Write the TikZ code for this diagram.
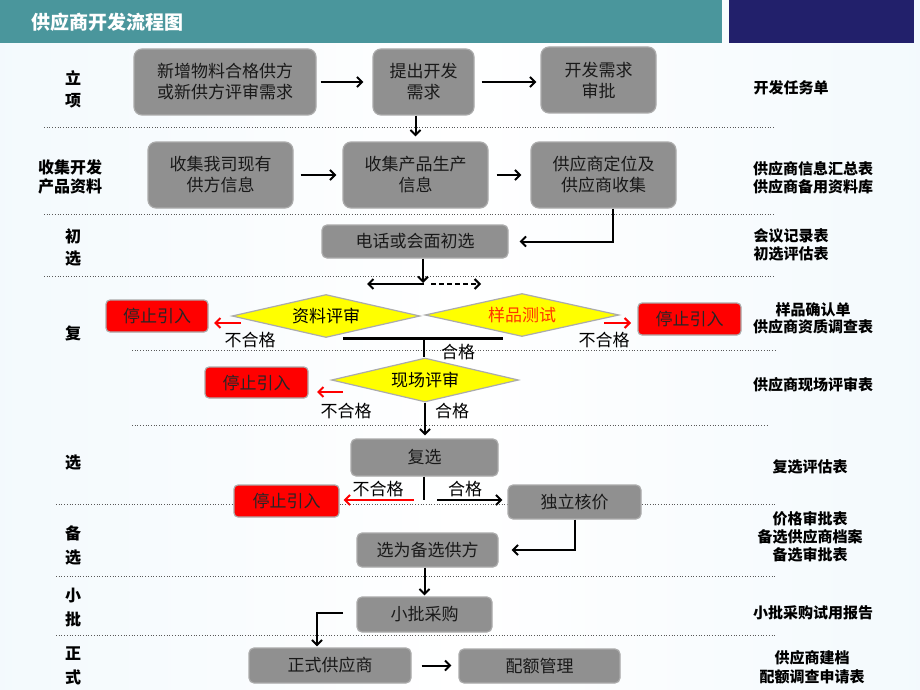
\documentclass[tikz,border=0pt]{standalone}
\usepackage{fontspec}
\setmainfont{Noto Sans CJK SC}
\usetikzlibrary{shapes.geometric,arrows.meta}
\definecolor{teal1}{HTML}{4A969C}
\definecolor{navy1}{HTML}{22206B}
\definecolor{boxgray}{HTML}{909090}
\definecolor{boxedge}{HTML}{ABABAB}
\definecolor{bgblue}{HTML}{B5DCF0}
\definecolor{bgmid}{HTML}{EEF7FC}
\definecolor{dyellow}{HTML}{FFFF00}
\definecolor{orangered}{HTML}{FF3300}
\pgfdeclarehorizontalshading{bgsh}{100bp}{color(0bp)=(bgblue); color(14bp)=(bgmid); color(50bp)=(white); color(86bp)=(bgmid); color(100bp)=(bgblue)}
\tikzset{
  gbox/.style={draw=boxedge, line width=1.2pt, fill=boxgray, rounded corners=8pt, inner sep=0pt, align=center, font=\fontsize{17}{21}\selectfont, text=black!90},
  sbox/.style={gbox, rounded corners=5pt},
  rbox/.style={draw=boxedge, line width=1.2pt, fill=red, rounded corners=4pt, inner sep=0pt, font=\fontsize{17}{21}\selectfont, text=black!85},
  dmd/.style={diamond, draw=boxedge, line width=1.2pt, fill=dyellow, inner sep=0pt, aspect=4.3, font=\fontsize{17}{21}\selectfont},
  sidelbl/.style={font=\bfseries\fontsize{15}{18}\selectfont, align=center, inner sep=0pt},
  leftlbl/.style={font=\bfseries\fontsize{16}{22}\selectfont, align=center, inner sep=0pt},
  lbl/.style={font=\fontsize{17}{20}\selectfont, inner sep=0pt},
  sep/.style={gray!70!black, dotted, line width=0.7pt},
  arr/.style={line width=2pt, -{Straight Barb[length=5pt,width=10pt]}},
  rarr/.style={arr, red},
}
\begin{document}
\begin{tikzpicture}[x=1pt,y=-1pt]
\useasboundingbox (0,0) rectangle (920,690);
\shade[shading=bgsh] (0,0) rectangle (920,690);
% header
\fill[teal1] (0,0) rectangle (722,43);
\fill[navy1] (729,0) rectangle (914,43);
\node[text=white, font=\bfseries\fontsize{19}{22}\selectfont, anchor=west, inner sep=0pt] (title) at (31,22) {供应商开发流程图};
% separators
\draw[sep] (44,127) -- (775,127);
\draw[sep] (44,214) -- (775,214);
\draw[sep] (44,276) -- (775,276);
\draw[sep] (132,350) -- (775,350);
\draw[sep] (132,425) -- (769,425);
\draw[sep] (56,504) -- (775,504);
\draw[sep] (56,576) -- (775,576);
\draw[sep] (56,635) -- (775,635);
% left labels
\node[leftlbl] (l1) at (73,89) {立\\项};
\node[leftlbl, font=\bfseries\fontsize{16}{19}\selectfont] (l2) at (70,177) {收集开发\\产品资料};
\node[leftlbl] (l3) at (73,247) {初\\选};
\node[leftlbl] (l4) at (73,333) {复};
\node[leftlbl] (l5) at (73,463) {选};
\node[leftlbl, font=\bfseries\fontsize{16}{24}\selectfont] (l6) at (73,545) {备\\选};
\node[leftlbl, font=\bfseries\fontsize{16}{24}\selectfont] (l7) at (73,608) {小\\批};
\node[leftlbl, font=\bfseries\fontsize{16}{24}\selectfont] (l8) at (73,666) {正\\式};
% right labels
\node[sidelbl] (r1) at (791,88) {开发任务单};
\node[sidelbl] (r2) at (813,178) {供应商信息汇总表\\供应商备用资料库};
\node[sidelbl] (r3) at (791,245) {会议记录表\\初选评估表};
\node[sidelbl, font=\bfseries\fontsize{15}{17}\selectfont] (r4) at (813,318) {样品确认单\\供应商资质调查表};
\node[sidelbl] (r5) at (813,385) {供应商现场评审表};
\node[sidelbl] (r6) at (810,467) {复选评估表};
\node[sidelbl] (r7) at (810,537) {价格审批表\\备选供应商档案\\备选审批表};
\node[sidelbl] (r8) at (813,613) {小批采购试用报告};
\node[sidelbl, font=\bfseries\fontsize{15}{19}\selectfont] (r9) at (812,667) {供应商建档\\配额调查申请表};
% grey boxes
\node[gbox, minimum width=182pt, minimum height=66pt] (A) at (225,82) {新增物料合格供方\\或新供方评审需求};
\node[gbox, minimum width=101pt, minimum height=66pt] (B) at (423.5,82) {提出开发\\需求};
\node[gbox, minimum width=115pt, minimum height=66pt] (C) at (598.5,80) {开发需求\\审批};
\node[gbox, minimum width=145pt, minimum height=66pt] (D) at (220.5,175) {收集我司现有\\供方信息};
\node[gbox, minimum width=145pt, minimum height=66pt] (E) at (415.5,175) {收集产品生产\\信息};
\node[gbox, minimum width=145pt, minimum height=66pt] (F) at (603.5,175) {供应商定位及\\供应商收集};
\node[sbox, minimum width=186pt, minimum height=33pt] (G) at (415,241.5) {电话或会面初选};
\node[sbox, minimum width=147pt, minimum height=37pt] (H) at (424.5,457.5) {复选};
\node[sbox, minimum width=133pt, minimum height=34pt] (I) at (574.5,502) {独立核价};
\node[sbox, minimum width=141pt, minimum height=34pt] (J) at (427.5,550) {选为备选供方};
\node[sbox, minimum width=135pt, minimum height=35pt] (K) at (424.5,614.5) {小批采购};
\node[sbox, minimum width=162pt, minimum height=35pt] (L) at (330,665.5) {正式供应商};
\node[sbox, minimum width=161pt, minimum height=34pt] (M) at (539.5,666) {配额管理};
% diamonds
\node[dmd, minimum width=188pt, minimum height=43pt] (d1) at (326,316) {资料评审};
\node[dmd, minimum width=194pt, minimum height=43pt, text=orangered] (d2) at (522,315) {样品测试};
\node[dmd, minimum width=187pt, minimum height=44pt] (d3) at (425,380) {现场评审};
% red boxes
\node[rbox, minimum width=102pt, minimum height=32pt] (s1) at (157,316) {停止引入};
\node[rbox, minimum width=103pt, minimum height=32pt] (s2) at (689.5,319) {停止引入};
\node[rbox, minimum width=103pt, minimum height=31pt] (s3) at (256.5,382.5) {停止引入};
\node[rbox, minimum width=105pt, minimum height=32pt] (s4) at (286.5,501) {停止引入};
% labels
\node[lbl] (t1) at (250,340) {不合格};
\node[lbl] (t2) at (604,340) {不合格};
\node[lbl] (t3) at (458,352) {合格};
\node[lbl] (t4) at (346,411) {不合格};
\node[lbl] (t5) at (452,411) {合格};
\node[lbl] (t6) at (378,489) {不合格};
\node[lbl] (t7) at (465,489) {合格};
% coordinates
\coordinate (fk) at (423,284);
\coordinate (fkL) at (367,284);
\coordinate (fkR) at (481,284);
\coordinate (barL) at (343,338);
\coordinate (barR) at (503,338);
\coordinate (barM) at (424,338);
\coordinate (ra1s) at (241,323); \coordinate (ra1e) at (214,323);
\coordinate (ra2s) at (604,323); \coordinate (ra2e) at (631,323);
\coordinate (ra3s) at (343,392); \coordinate (ra3e) at (317,392);
\coordinate (hb) at (424,500);
\coordinate (ksL) at (343,613);
\coordinate (kc) at (317,613);
% connectors
\draw[arr, shorten <=4pt, shorten >=9pt] (A.east) -- (B.west);
\draw[arr, shorten <=7pt, shorten >=4pt] (B.east) -- (C.west |- B.east);
\draw[arr, shorten >=5pt] (E.north |- B.south) -- (E.north);
\draw[arr, shorten <=7pt, shorten >=6pt] (D.east) -- (E.west);
\draw[arr, shorten <=8pt, shorten >=9pt] (E.east) -- (F.west);
\draw[arr, shorten >=11pt] ([xshift=9.5pt]F.south) |- (G.east);
\draw[arr, shorten >=1pt] (G.south -| fk) -- (fk);
\draw[arr, line width=2pt] ([xshift=1pt]fk) -- (fkL);
\draw[arr, dashed, dash pattern=on 5pt off 3pt] ([xshift=8pt]fk) -- (fkR);
\draw[line width=3pt] (barL) -- (barR);
\draw[line width=1.5pt] (barM) -- (barM |- d3.north);
\draw[rarr] (ra1s) -- (ra1e);
\draw[rarr] (ra2s) -- (ra2e);
\draw[rarr] (ra3s) -- (ra3e);
\draw[arr, shorten >=3pt] (d3.south) -- (d3.south |- H.north);
\draw[line width=1.5pt] (H.south -| hb) -- (hb);
\draw[rarr, shorten >=4pt] ([xshift=-10pt]hb) -- (s4.east |- hb);
\draw[arr, shorten >=5pt] ([xshift=13pt]hb) -- (I.west |- hb);
\draw[arr, shorten >=13pt] ([xshift=0.5pt]I.south) |- (J.east);
\draw[arr, shorten >=1pt] (J.south -| K.north) -- (K.north);
\draw[arr, shorten >=1pt] (ksL) -- (kc) -- (kc |- L.north);
\draw[arr, shorten <=10pt, shorten >=7pt] (L.east) -- (M.west |- L.east);
\end{tikzpicture}
\end{document}
